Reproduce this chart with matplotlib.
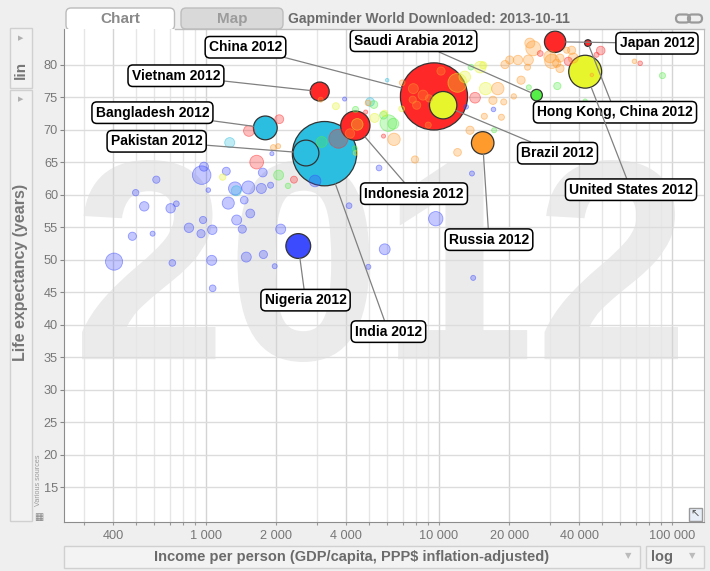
import numpy as np
import matplotlib
matplotlib.use('Agg')
import matplotlib.pyplot as plt
from matplotlib.textpath import TextPath
from matplotlib.patches import PathPatch, FancyBboxPatch, Rectangle
from matplotlib.lines import Line2D
from matplotlib.font_manager import FontProperties
from matplotlib.colors import to_rgba
import matplotlib.transforms as mtransforms

plt.rcParams['font.family'] = ['Liberation Sans', 'DejaVu Sans']

# ---------------- data ----------------
SEL_NAMES = ["China", "India", "Indonesia", "Vietnam", "Bangladesh", "Pakistan",
             "Nigeria", "Saudi Arabia", "Japan", "Hong Kong, China", "Brazil",
             "Russia", "United States"]
SEL_INCOME = [9516, 3226, 4374, 3076, 1797, 2686, 2489, 26240, 31500, 43560, 10420, 15400, 42400]
SEL_LIFE = [75.1, 66.3, 70.6, 75.85, 70.26, 66.4, 52.1, 75.3, 83.5, 83.3, 73.75, 67.95, 78.9]
SEL_POP = [1350, 1237, 247, 100, 160, 190, 175, 34, 127, 10, 215, 143, 314]
SEL_REGION = ['eap', 'sas', 'eap', 'eap', 'sas', 'sas', 'afr', 'mna', 'eap', 'eap', 'ame', 'eur', 'ame']

# label anchor positions (income, life) for the callouts
LABEL_INCOME = [1477, 6068, 7812, 743, 589, 614, 2674, 7775, 86200, 56930, 32260, 16390, 66690]
LABEL_LIFE = [82.66, 38.94, 60.15, 78.28, 72.6, 68.2, 43.78, 83.66, 83.27, 72.67, 66.37, 53.08, 60.76]

# other countries: (income, life expectancy, population in millions)
AFR = [(403, 49.7, 80), (958, 63.0, 95), (980, 64.3, 20), (1222, 63.6, 15), (612, 62.3, 12),
       (499, 60.3, 9), (543, 58.2, 22), (705, 57.9, 22), (746, 58.6, 7), (1023, 60.7, 4),
       (1332, 60.95, 45), (1519, 61.1, 45), (1728, 60.95, 25), (1459, 59.15, 14), (1246, 58.7, 38),
       (1354, 56.1, 25), (1549, 57.1, 19), (1431, 54.7, 16), (845, 54.9, 22), (952, 54.0, 16),
       (1064, 54.6, 22), (971, 56.1, 12), (483, 53.6, 16), (590, 54.0, 5), (717, 49.5, 10),
       (1058, 49.9, 25), (1489, 50.4, 25), (1068, 45.6, 10), (1763, 50.8, 16), (1752, 63.4, 19),
       (1893, 61.45, 8), (2092, 54.7, 25), (1972, 49.0, 5), (2938, 62.1, 35), (4111, 58.3, 7),
       (4974, 48.9, 5), (9685, 56.3, 55), (5848, 51.6, 30), (14020, 47.2, 5), (1918, 66.3, 3),
       (5530, 64.1, 7), (13850, 63.25, 5), (3935, 74.7, 3), (13080, 73.5, 4), (17130, 73.1, 4)]
SAS = [(1264, 68.0, 25), (1349, 60.6, 25), (5058, 74.25, 18), (5990, 77.6, 2), (3464, 67.1, 4)]
EAP = [(1650, 65.0, 50), (1529, 69.8, 30), (2063, 71.6, 19), (2385, 62.3, 11), (3700, 68.6, 100),
       (14280, 74.9, 29), (4845, 72.7, 3), (5780, 69.0, 3), (49430, 82.15, 18), (47420, 81.5, 5),
       (35880, 80.5, 16), (73000, 80.2, 4), (27190, 81.7, 7)]
AME = [(1179, 62.7, 9), (3610, 73.6, 11), (5835, 72.5, 9), (5290, 71.8, 20), (6914, 73.2, 7),
       (12000, 77.2, 100), (15020, 79.6, 35), (12900, 78.1, 35), (15850, 76.3, 40), (15480, 79.9, 11),
       (4380, 66.4, 4), (4457, 70.8, 35), (11040, 73.75, 14)]
EUR = [(1945, 67.25, 7), (2040, 67.45, 5), (3106, 74.6, 5), (4149, 69.4, 22), (4957, 74.1, 7),
       (6953, 77.2, 7), (6410, 68.5, 40), (7887, 65.4, 12), (12010, 66.5, 14), (13590, 69.9, 16),
       (15650, 72.05, 8), (18530, 71.9, 8), (17880, 76.3, 40), (17040, 74.5, 16), (18960, 74.25, 8),
       (20940, 75.1, 6), (20120, 80.7, 16), (21830, 80.7, 22), (23990, 79.6, 8), (19200, 80.0, 16),
       (22500, 77.6, 16), (25390, 82.5, 60), (24190, 80.7, 25), (24530, 83.3, 25), (29920, 81.2, 38),
       (33050, 81.0, 16), (35320, 82.2, 8), (37090, 82.2, 16), (37700, 81.0, 25), (32000, 80.2, 16),
       (30500, 80.5, 55), (33050, 79.4, 16), (45300, 78.4, 2), (69000, 80.5, 4), (10200, 79.0, 16),
       (7760, 76.3, 25), (8540, 75.3, 25), (8020, 73.75, 16), (8990, 70.7, 8), (7710, 74.6, 12),
       (9060, 74.8, 12)]
MNA = [(2050, 63.0, 25), (2249, 61.35, 6), (6060, 71.0, 75), (6367, 70.9, 30), (5780, 72.2, 14),
       (4383, 73.1, 8), (4350, 67.1, 5), (3138, 68.1, 30), (13710, 79.6, 7), (24300, 76.5, 5),
       (32200, 76.7, 12), (17240, 69.9, 5), (42400, 74.4, 3), (91000, 78.3, 8), (5255, 73.85, 14)]

X_TICKS = [400, 1000, 2000, 4000, 10000, 20000, 40000, 100000]
X_MINOR = [300, 500, 600, 700, 800, 900, 3000, 5000, 6000, 7000, 8000, 9000,
           30000, 50000, 60000, 70000, 80000, 90000]
Y_TICKS = list(range(15, 85, 5))

COLORS = {'afr': '#3d4bff', 'sas': '#2bbee0', 'eap': '#ff2828',
          'ame': '#e6f52c', 'eur': '#ff9b2c', 'mna': '#55ee48'}

# ---------------- figure ----------------
W, H = 710, 571
DPI = 100
fig = plt.figure(figsize=(W / DPI, H / DPI), dpi=DPI, facecolor='#efefef')
PX = mtransforms.Affine2D().scale(1 / W, -1 / H).translate(0, 1) + fig.transFigure


def fx(x):
    return x / W


def fy(y):
    return 1 - y / H


ax = fig.add_axes([64.3 / W, 1 - 522 / H, (704 - 64.3) / W, (522 - 29.3) / H])
ax.set_facecolor('white')
ax.set_xscale('log')
ax.set_axisbelow(True)

# big background year
fp = FontProperties(family='Liberation Sans', weight='bold')
tp = TextPath((0, 0), '2012', size=100, prop=fp)
ext = tp.get_extents()
x0, x1 = 82, 678
ytop, ybot = 160, 362
tr = (mtransforms.Affine2D().translate(-ext.x0, -ext.y0)
      .scale((x1 - x0) / ext.width, (ybot - ytop) / ext.height)
      .translate(x0, H - ybot) + mtransforms.Affine2D().scale(1 / W, 1 / H) + fig.transFigure)
year = PathPatch(tp, transform=tr, fc='#ebebeb', ec='none', zorder=0.2)
ax.add_patch(year)

# bubbles
def rad(p):
    return 0.9 * np.sqrt(p) + 0.5


rows = []
for reg, lst in [('afr', AFR), ('sas', SAS), ('eap', EAP), ('ame', AME), ('eur', EUR), ('mna', MNA)]:
    for inc, le, pop in lst:
        rows.append((inc, le, pop, reg, False))
for inc, le, pop, reg in zip(SEL_INCOME, SEL_LIFE, SEL_POP, SEL_REGION):
    rows.append((inc, le, pop, reg, True))
rows.sort(key=lambda r: -r[2])

xs = np.array([r[0] for r in rows], float)
ys = np.array([r[1] for r in rows], float)
pops = np.array([r[2] for r in rows], float)
sizes = (2 * rad(pops) * 72 / DPI) ** 2
fcs = [to_rgba(COLORS[r[3]], 1.0 if r[4] else 0.3) for r in rows]
ecs = [to_rgba('#333333', 1.0) if r[4] else to_rgba(COLORS[r[3]], 0.5) for r in rows]
lws = [0.9 if r[4] else 0.6 for r in rows]
ax.scatter(xs, ys, s=sizes, c=fcs, edgecolors=ecs, linewidths=lws, zorder=2)

# callouts
for name, xi, yi, pop, lx, ly in zip(SEL_NAMES, SEL_INCOME, SEL_LIFE, SEL_POP, LABEL_INCOME, LABEL_LIFE):
    ax.annotate(f'{name} 2012', xy=(xi, yi), xytext=(lx, ly), textcoords='data',
                ha='center', va='center', fontsize=10, fontweight='bold', color='black',
                bbox=dict(boxstyle='round,pad=0.27,rounding_size=0.35', fc='white', ec='black', lw=1.1),
                arrowprops=dict(arrowstyle='-', color='#808080', lw=0.9, shrinkA=0,
                                shrinkB=rad(pop) * 72 / DPI),
                zorder=10, annotation_clip=False)

# axes styling
ax.set_xlim(246.5, 137200)
ax.set_ylim(9.67, 85.42)
ax.set_xticks(X_TICKS)
ax.set_xticklabels([f'{v:,}'.replace(',', ' ') for v in X_TICKS])
ax.set_xticks(X_MINOR, minor=True)
ax.set_xticklabels([], minor=True)
ax.set_yticks(Y_TICKS)
ax.set_yticks([], minor=True)
ax.grid(which='major', axis='x', color='#d4d4d4', lw=1)
ax.grid(which='minor', axis='x', color='#e6e6e6', lw=1)
ax.grid(which='major', axis='y', color='#dcdcdc', lw=1)
ax.tick_params(axis='x', which='both', direction='out', length=2.3, width=0.8, color='#999999',
               labelcolor='#777777', labelsize=9.2, pad=3.5)
ax.tick_params(axis='y', which='major', direction='out', length=3, width=0.8, color='#888888',
               labelcolor='#777777', labelsize=9.2, pad=1.5)
for sp in ['left', 'bottom']:
    ax.spines[sp].set_color('#8c8c8c')
ax.spines['right'].set_color('#bdbdbd')
ax.spines['top'].set_visible(False)

# top frame line (right of Chart tab)
fig.add_artist(Line2D([174.5, 704], [29.3, 29.3], transform=PX, color='#bdbdbd', lw=1, zorder=2))

# tabs
fig.add_artist(FancyBboxPatch((66, 8), 108.5, 22, boxstyle='round,pad=0,rounding_size=5',
                              transform=PX, fc='white', ec='#bbbbbb', lw=1, zorder=-1))
fig.add_artist(FancyBboxPatch((181, 8), 102, 21, boxstyle='round,pad=0,rounding_size=5',
                              transform=PX, fc='#d9d9d9', ec='#bdbdbd', lw=1, zorder=-1))
fig.text(fx(120), fy(19), 'Chart', ha='center', va='center', fontsize=11, fontweight='bold', color='#8a8a8a')
fig.text(fx(232), fy(19), 'Map', ha='center', va='center', fontsize=11, fontweight='bold', color='#9c9c9c')
fig.text(fx(288), fy(18.5), 'Gapminder World Downloaded: 2013-10-11', ha='left', va='center',
         fontsize=10, fontweight='bold', color='#6b6b6b')
# link icon
fig.add_artist(FancyBboxPatch((676, 14.5), 14, 8, boxstyle='round,pad=0,rounding_size=4',
                              transform=PX, fc='none', ec='#9a9a9a', lw=1.6))
fig.add_artist(FancyBboxPatch((688, 14.5), 14, 8, boxstyle='round,pad=0,rounding_size=4',
                              transform=PX, fc='none', ec='#9a9a9a', lw=1.6))

# left control panel
fig.add_artist(Rectangle((10, 28), 22, 60, transform=PX, fc='#f2f2f2', ec='#d0d0d0', lw=1))
fig.add_artist(Rectangle((10, 90), 22, 431, transform=PX, fc='#f2f2f2', ec='#d0d0d0', lw=1))
fig.text(fx(21), fy(39), '\u25B6', ha='center', va='center', fontsize=5, color='#b0b0b0')
fig.text(fx(21), fy(100), '\u25B6', ha='center', va='center', fontsize=5, color='#b0b0b0')
fig.text(fx(21), fy(70), 'lin', ha='center', va='center', rotation=90, fontsize=11,
         fontweight='bold', color='#777777')
fig.text(fx(21), fy(272), 'Life expectancy (years)', ha='center', va='center', rotation=90,
         fontsize=11.5, fontweight='bold', color='#777777')
fig.text(fx(39), fy(480), 'Various sources', ha='center', va='center', rotation=90,
         fontsize=5.2, color='#9a9a9a')
fig.text(fx(39), fy(517), '\u25A6', ha='center', va='center', fontsize=7, color='#888888',
         family=['DejaVu Sans'])

# bottom controls
fig.add_artist(Rectangle((64.3, 546), 575.7, 22, transform=PX, fc='#f3f3f3', ec='#d0d0d0', lw=1))
fig.add_artist(Rectangle((645.5, 546), 58.5, 22, transform=PX, fc='#f3f3f3', ec='#d0d0d0', lw=1))
fig.text(fx(352), fy(557), 'Income per person (GDP/capita, PPP$ inflation-adjusted)', ha='center',
         va='center', fontsize=10.5, fontweight='bold', color='#6b6b6b')
fig.text(fx(628), fy(556), '\u25BC', ha='center', va='center', fontsize=6, color='#bbbbbb',
         family=['DejaVu Sans'])
fig.text(fx(662), fy(557), 'log', ha='center', va='center', fontsize=10.5, fontweight='bold', color='#6b6b6b')
fig.text(fx(692), fy(556), '\u25BC', ha='center', va='center', fontsize=6, color='#bbbbbb',
         family=['DejaVu Sans'])

# corner icon
fig.add_artist(Rectangle((689, 508), 13, 13, transform=PX, fc='#e8eef8', ec='#999999', lw=1, zorder=5))
fig.text(fx(695.5), fy(514.5), '\u2196', ha='center', va='center', fontsize=8, color='#555555',
         family=['DejaVu Sans'], zorder=6)

fig.savefig('out.png', dpi=DPI, facecolor=fig.get_facecolor())
